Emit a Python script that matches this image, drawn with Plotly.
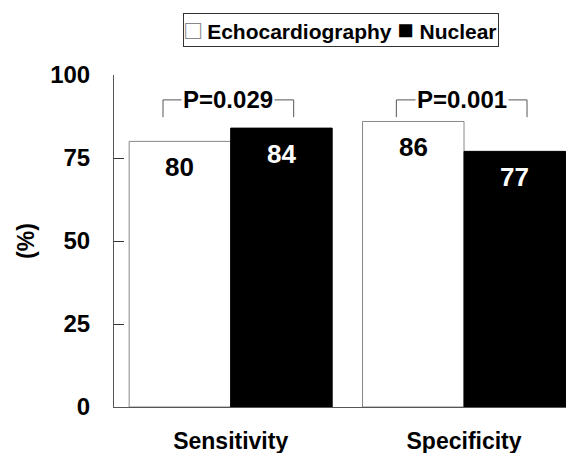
import plotly.graph_objects as go

categories = ["Sensitivity", "Specificity"]
series_names = ["Echocardiography", "Nuclear"]
echo_values = [80, 86]
nuclear_values = [84, 77]
p_labels = ["P=0.029", "P=0.001"]
y_ticks = [0, 25, 50, 75, 100]

FONT = "Arial, Liberation Sans, sans-serif"
xpos = list(range(len(categories)))

fig = go.Figure()
fig.add_trace(go.Bar(x=xpos, y=echo_values, name=series_names[0], showlegend=False,
                     marker=dict(color="white", line=dict(color="#888888", width=1))))
fig.add_trace(go.Bar(x=xpos, y=nuclear_values, name=series_names[1], showlegend=False,
                     marker=dict(color="black", line=dict(color="black", width=1))))

# value labels inside bar tops
bar_off = 0.87 / 4
for i in xpos:
    fig.add_annotation(x=i - bar_off, y=echo_values[i], text=f"<b>{echo_values[i]}</b>",
                       showarrow=False, yanchor="top", yshift=-9,
                       font=dict(family=FONT, size=26, color="black"))
    fig.add_annotation(x=i + bar_off, y=nuclear_values[i], text=f"<b>{nuclear_values[i]}</b>",
                       showarrow=False, yanchor="top", yshift=-9,
                       font=dict(family=FONT, size=26, color="white"))

# P-value brackets
for i in xpos:
    top = 92.5
    low = 87.3
    l, r = i - 0.29, i + 0.27
    fig.add_shape(type="path", path=f"M {l},{low} L {l},{top} L {r},{top} L {r},{low}",
                  line=dict(color="#555555", width=1), xref="x", yref="y")
    fig.add_annotation(x=(l + r) / 2, y=top, text=f"<b>{p_labels[i]}</b>", showarrow=False,
                       bgcolor="white", borderpad=1,
                       font=dict(family=FONT, size=24, color="black"))

# legend box (manual, compact like the original)
legend_text = (f'<span style="color:#888888;font-size:27px">□</span><b> {series_names[0]} </b>'
               f'<span style="font-size:27px">■</span><b> {series_names[1]}</b>')
fig.add_annotation(xref="paper", yref="paper", x=0.503, y=1.136, xanchor="center",
                   yanchor="middle", text=legend_text, showarrow=False,
                   bordercolor="#333333", borderwidth=1, borderpad=1, bgcolor="white",
                   font=dict(family=FONT, size=21, color="black"))

fig.update_layout(
    width=578, height=453,
    margin=dict(l=114, r=12, t=75, b=46),
    paper_bgcolor="white", plot_bgcolor="white",
    barmode="group", bargap=0.13, bargroupgap=0,
    font=dict(family=FONT, color="black"),
    showlegend=False,
    xaxis=dict(range=[-0.5, 1.437], tickvals=xpos, ticktext=[f"<b>{c}</b>" for c in categories],
               showline=True, linecolor="#555555", linewidth=1, ticks="", showgrid=False,
               zeroline=False, tickfont=dict(family=FONT, size=23, color="black"),
               ticklabelstandoff=13, automargin=False),
    yaxis=dict(range=[0, 100], tickvals=y_ticks, ticktext=[f"<b>{t}</b>" for t in y_ticks],
               showline=True, linecolor="#555555", linewidth=1, ticks="inside", ticklen=10,
               tickcolor="#333333", showgrid=False, zeroline=False,
               tickfont=dict(family=FONT, size=24, color="black"), ticklabelstandoff=18,
               automargin=False,
               title=dict(text="<b>(%)</b>", font=dict(family=FONT, size=23, color="black"),
                          standoff=9)),
)

fig.write_html("out.html")
